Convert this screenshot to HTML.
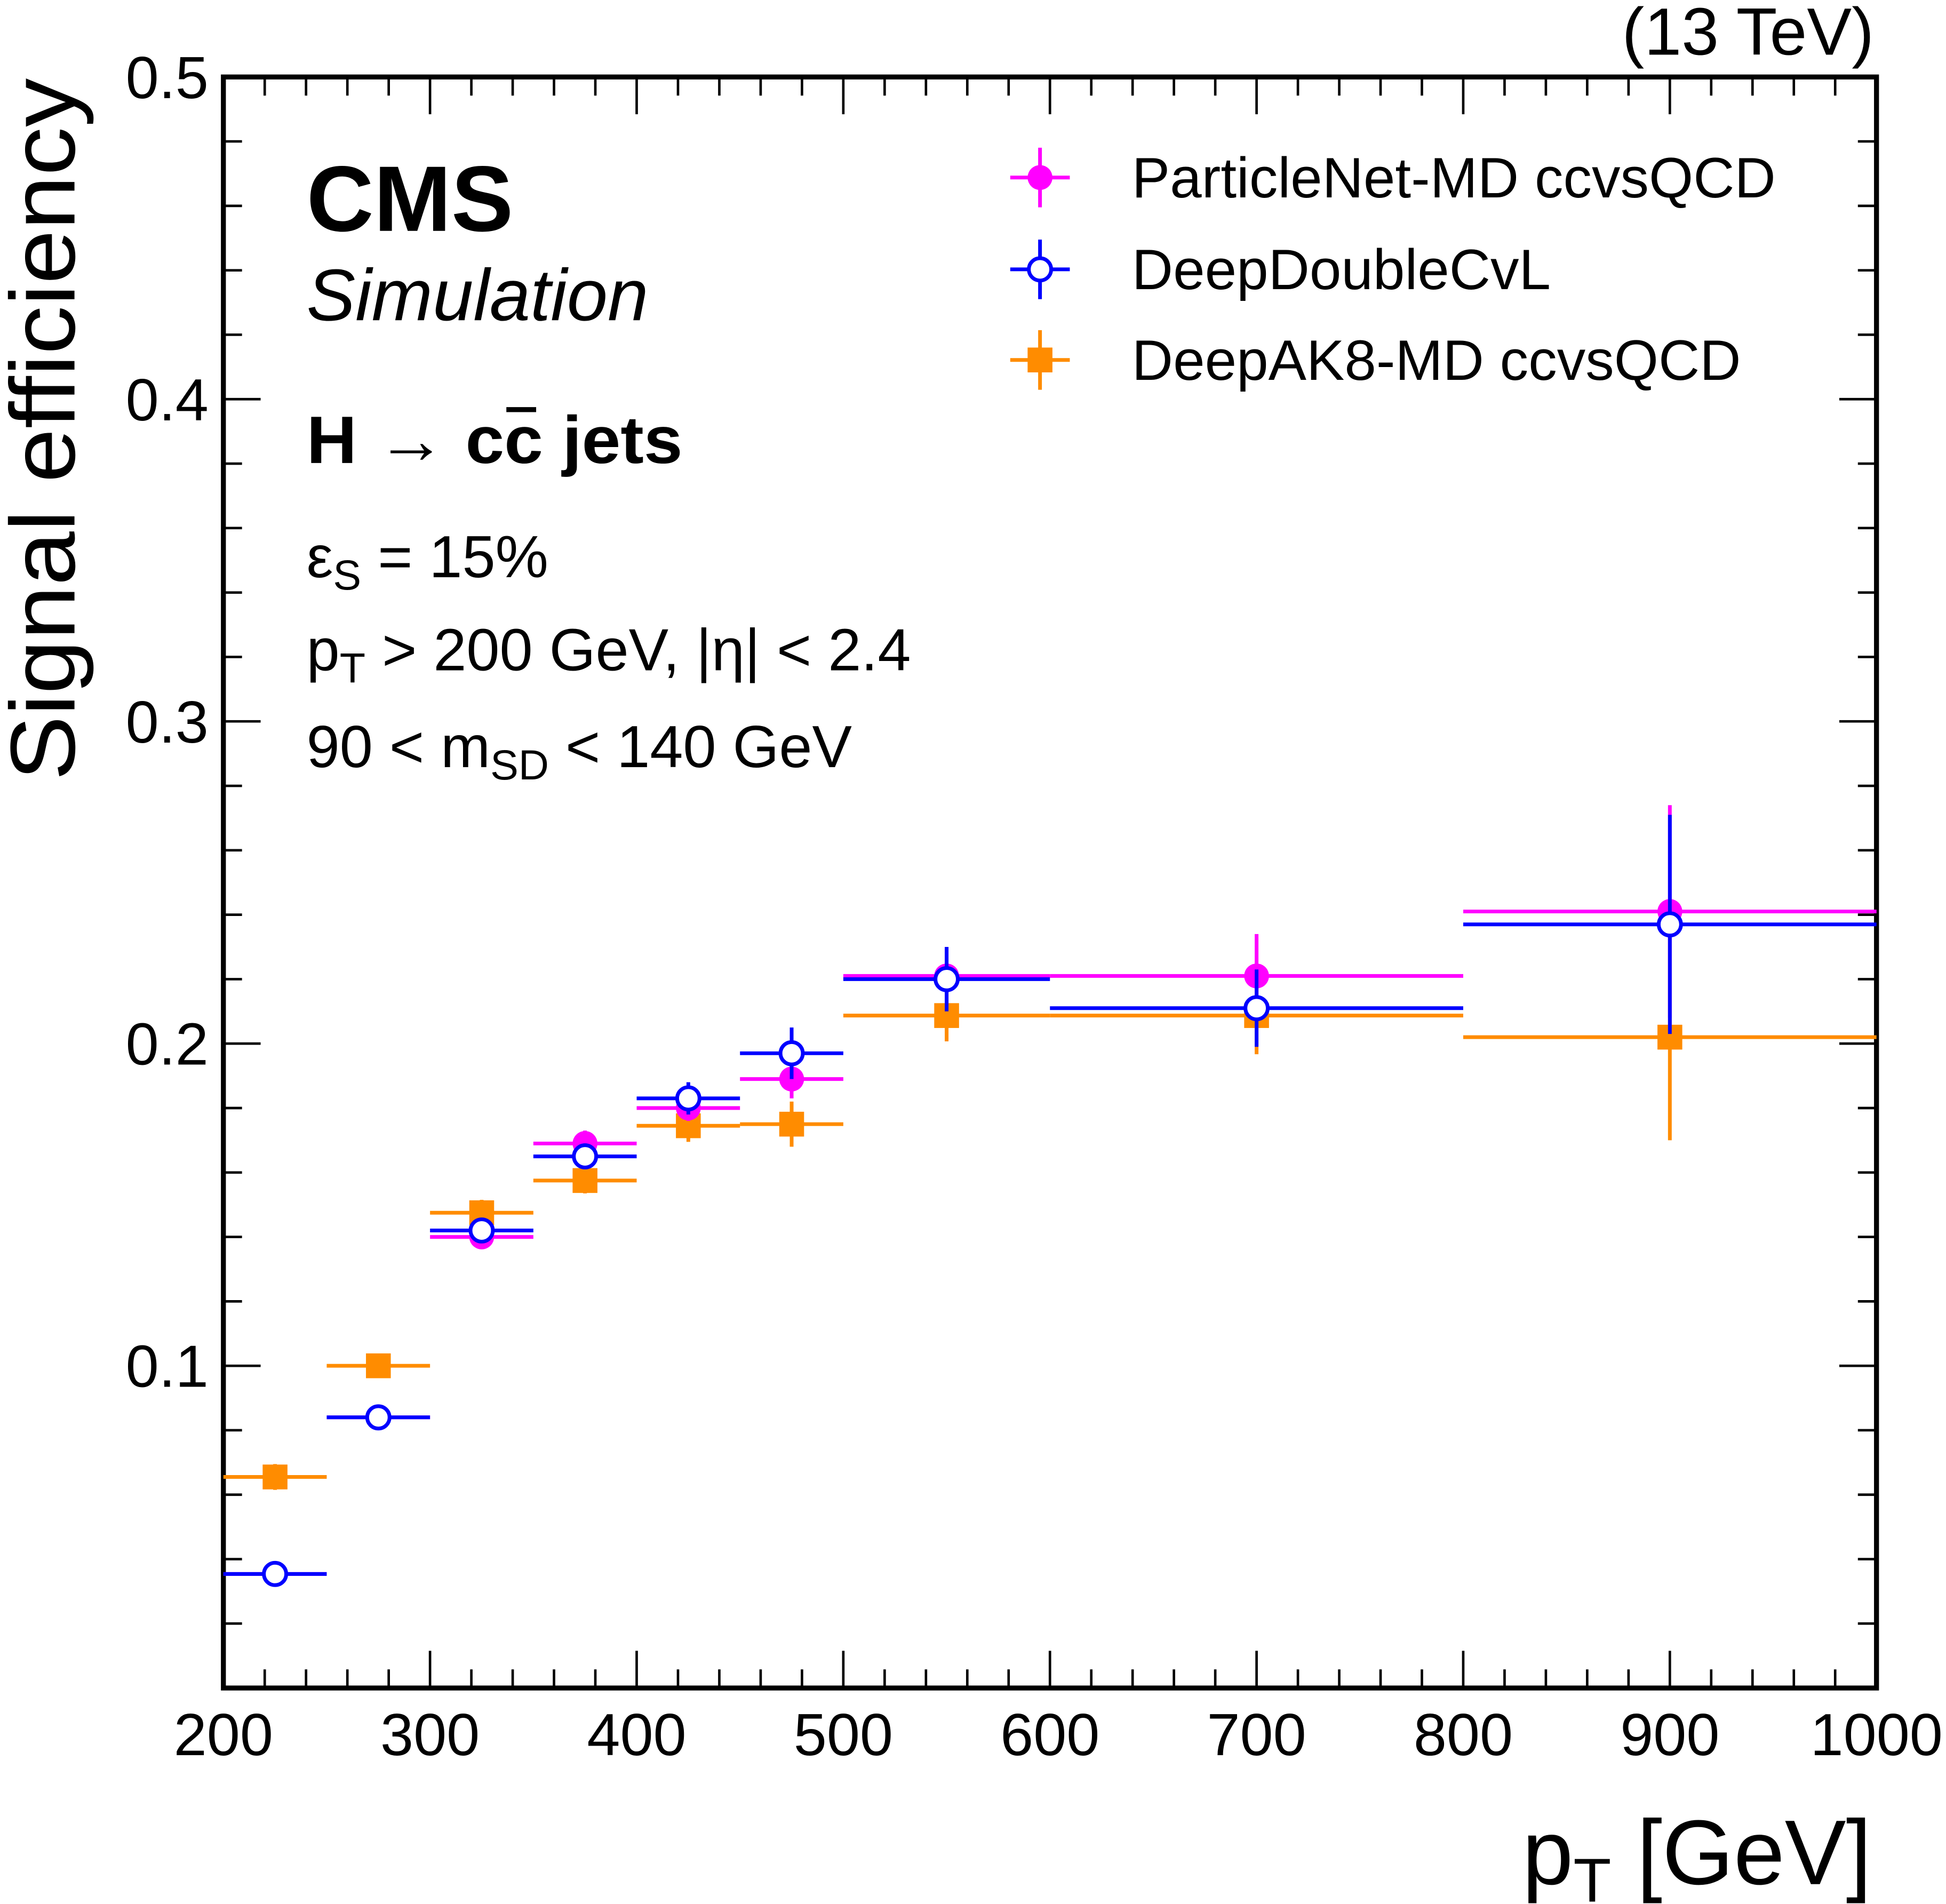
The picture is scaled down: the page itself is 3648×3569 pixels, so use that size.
<!DOCTYPE html>
<html><head><meta charset="utf-8"><style>
html,body{margin:0;padding:0;background:#fff}
svg{display:block}
text{font-family:"Liberation Sans",sans-serif;fill:#000}
</style></head><body>
<svg id="c" width="3648" height="3569" viewBox="0 0 1568 1534">
<rect x="180" y="62" width="1332" height="1298" fill="none" stroke="#000" stroke-width="4"/>
<g id="ticks"></g>
<g id="marks"></g>
<text x="1510" y="44" font-size="54" text-anchor="end">(13 TeV)</text>
<text transform="translate(60,346) rotate(-90)" font-size="74" text-anchor="middle" textLength="566" lengthAdjust="spacingAndGlyphs">Signal efficiency</text>
<text x="1508" y="1518" font-size="74" text-anchor="end">p<tspan font-size="50" dy="14">T</tspan><tspan dy="-14"> [GeV]</tspan></text>
<text x="247" y="186" font-size="75" font-weight="bold">CMS</text>
<text x="247" y="258" font-size="59" font-style="italic">Simulation</text>
<text x="247" y="373" font-size="54" font-weight="bold" textLength="303" lengthAdjust="spacingAndGlyphs">H → cc jets</text>
<line x1="408" y1="330" x2="432" y2="330" stroke="#000" stroke-width="4"/>
<text x="247" y="465" font-size="48">ε<tspan font-size="34" dy="10">S</tspan><tspan dy="-10"> = 15%</tspan></text>
<text x="247" y="540" font-size="48">p<tspan font-size="34" dy="10">T</tspan><tspan dy="-10"> &gt; 200 GeV, |η| &lt; 2.4</tspan></text>
<text x="247" y="618" font-size="48">90 &lt; m<tspan font-size="34" dy="10">SD</tspan><tspan dy="-10"> &lt; 140 GeV</tspan></text>
<g id="legend"></g>
</svg>
<script>
const binEdges=[200,250,300,350,400,450,500,600,800,1000];
const pnVals=[0.0354,0.084,0.140,0.169,0.180,0.189,0.221,0.221,0.241];
const pnErrs=[0.003,0.003,0.003,0.004,0.004,0.006,0.009,0.013,0.033];
const ddVals=[0.0354,0.084,0.142,0.165,0.183,0.197,0.220,0.211,0.237];
const ddErrs=[0.003,0.003,0.003,0.004,0.005,0.008,0.010,0.012,0.034];
const akVals=[0.0655,0.100,0.1475,0.1575,0.1745,0.175,0.2087,0.2087,0.202];
const akErrs=[0.004,0.003,0.004,0.004,0.005,0.007,0.008,0.012,0.032];
const xTicks=[200,300,400,500,600,700,800,900,1000];
const yTicks=[0.1,0.2,0.3,0.4,0.5];
const NS="http://www.w3.org/2000/svg";
const X=v=>180+(v-200)/800*1332;
const Y=v=>1360-v/0.5*1298;
function mk(t,a,p){const e=document.createElementNS(NS,t);for(const k in a)e.setAttribute(k,a[k]);p.appendChild(e);return e;}
const tk=document.getElementById('ticks');
for(let v=200;v<=1000;v+=20){const maj=v%100===0;const l=maj?30:15;
 mk('line',{x1:X(v),x2:X(v),y1:1360,y2:1360-l,stroke:'#000','stroke-width':2},tk);
 mk('line',{x1:X(v),x2:X(v),y1:62,y2:62+l,stroke:'#000','stroke-width':2},tk);}
for(let i=1;i<=25;i++){const v=i*0.02;const maj=i%5===0;const l=maj?30:15;
 mk('line',{x1:180,x2:180+l,y1:Y(v),y2:Y(v),stroke:'#000','stroke-width':2},tk);
 mk('line',{x1:1512,x2:1512-l,y1:Y(v),y2:Y(v),stroke:'#000','stroke-width':2},tk);}
xTicks.forEach(v=>{const t=mk('text',{x:X(v),y:1414,'font-size':48,'text-anchor':'middle'},tk);t.textContent=v;

});
yTicks.forEach(v=>{const t=mk('text',{x:168,y:Y(v)+17,'font-size':48,'text-anchor':'end'},tk);t.textContent=v.toFixed(1);

});
const mg=document.getElementById('marks');
function marker(type,col,cx,cy,p){
 if(type==='fc')return mk('circle',{cx,cy,r:10,fill:col},p);
 if(type==='oc')return mk('circle',{cx,cy,r:9,fill:'#fff',stroke:col,'stroke-width':3},p);
 return mk('rect',{x:cx-10,y:cy-10,width:20,height:20,fill:col},p);}
function series(vals,errs,col,type,name){
 const g=mk('g',{},mg);
 
 
 vals.forEach((v,i)=>{const x0=X(binEdges[i]),x1=X(binEdges[i+1]),xc=(x0+x1)/2,y=Y(v);
  mk('line',{x1:x0,x2:x1,y1:y,y2:y,stroke:col,'stroke-width':3},g);
  mk('line',{x1:xc,x2:xc,y1:Y(v-errs[i]),y2:Y(v+errs[i]),stroke:col,'stroke-width':3},g);
  const m=marker(type,col,xc,y,g);
  
  });}
series(akVals,akErrs,'#ff8c00','sq','deepak8-series');
series(pnVals,pnErrs,'#ff00ff','fc','particlenet-series');
series(ddVals,ddErrs,'#0000ff','oc','deepdoublecvl-series');
const lg=document.getElementById('legend');
[['ParticleNet-MD ccvsQCD','#ff00ff','fc',143],['DeepDoubleCvL','#0000ff','oc',217],['DeepAK8-MD ccvsQCD','#ff8c00','sq',290]].forEach(([lab,col,type,y])=>{
 const g=mk('g',{},lg);
 
 
 mk('line',{x1:814,x2:862,y1:y,y2:y,stroke:col,'stroke-width':3},g);
 mk('line',{x1:838,x2:838,y1:y-24,y2:y+24,stroke:col,'stroke-width':3},g);
 marker(type,col,838,y,g);
 const t=mk('text',{x:912,y:y+16,'font-size':46},g);t.textContent=lab;});
</script>
</body></html>
